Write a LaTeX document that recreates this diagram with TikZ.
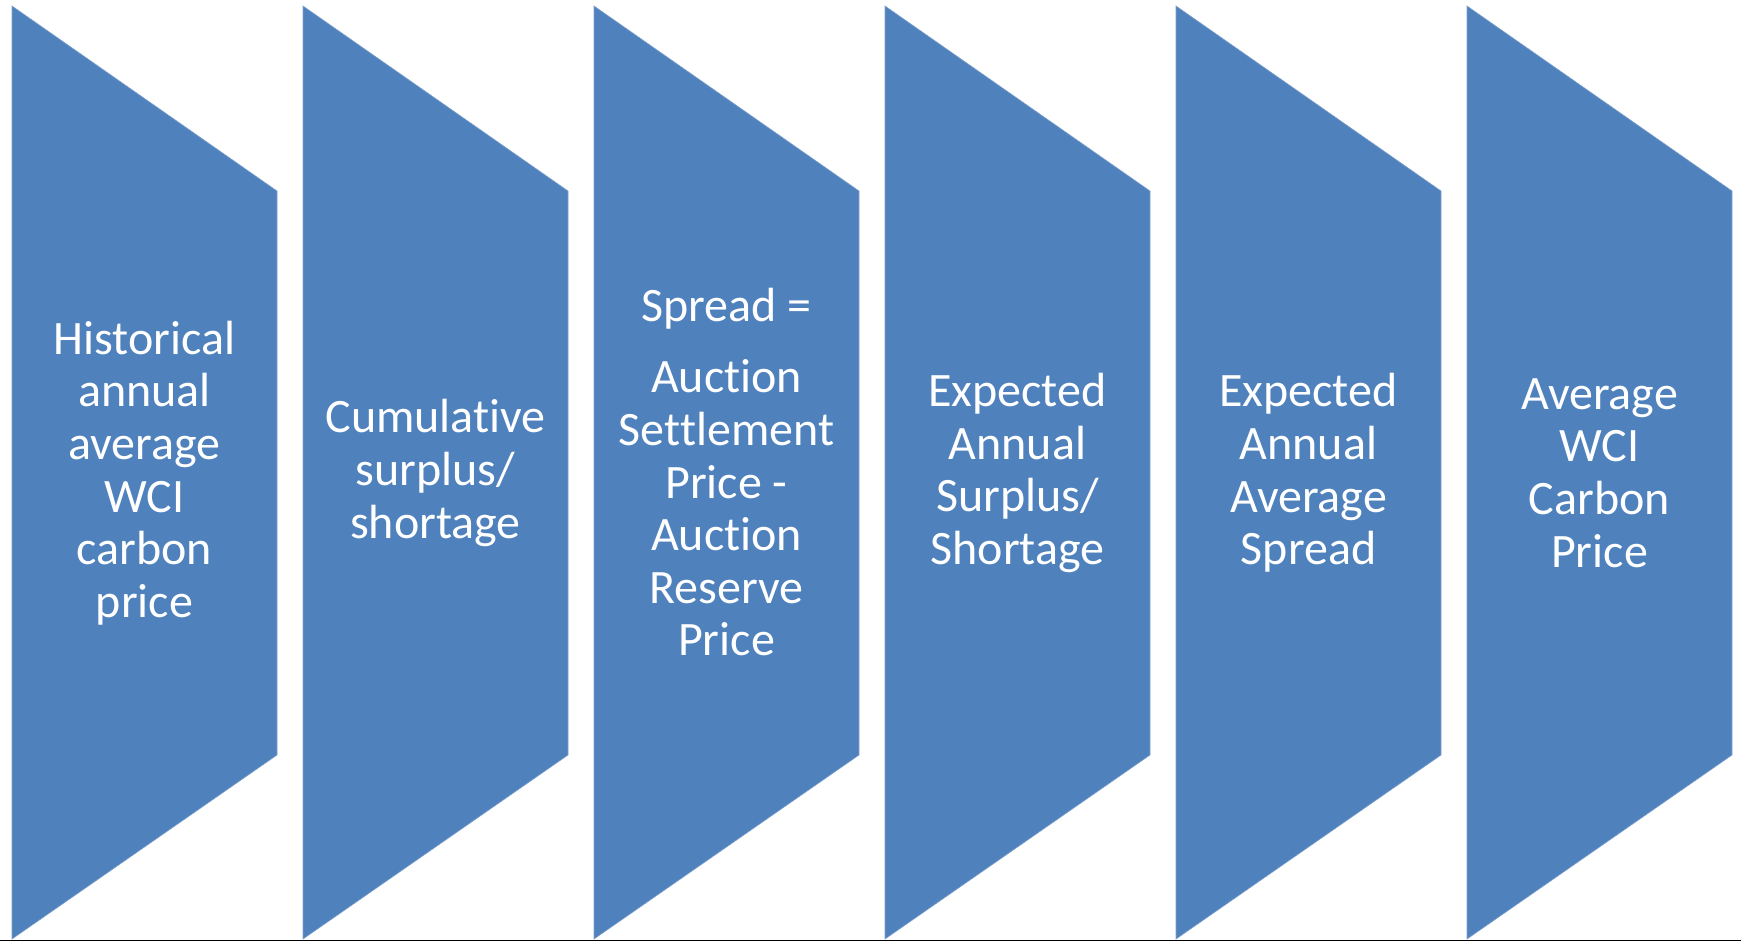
\documentclass[tikz,border=0pt]{standalone}
\usepackage{fontspec}
\setmainfont{Carlito}[Ligatures={NoCommon}]
\definecolor{stepblue}{HTML}{4F81BD}
\definecolor{stepedge}{HTML}{7EA1CC}
\definecolor{baseline}{HTML}{77933C}
\begin{document}
\begin{tikzpicture}[x=1pt,y=-1pt,
  stepshape/.style={fill=stepblue,draw=stepedge,line width=0.6pt,line join=miter},
  steptext/.style={text=white,align=center,inner sep=0pt,
    font=\fontsize{48}{52.6}\selectfont}]
\useasboundingbox (0,0) rectangle (1741,941);
% six pentagon-like step shapes, each slanting down toward the right
\foreach \i in {0,...,5}{
  \pgfmathsetmacro{\xa}{12+291*\i}
  \pgfmathsetmacro{\xb}{\xa+265}
  \path[stepshape] (\xa,6) -- (\xb,191) -- (\xb,755) -- (\xa,939) -- cycle;
}
% step labels
\node[steptext] (s1) at (144.5,473) {Historical\\annual\\average\\WCI\\carbon\\price};
\node[steptext] (s2) at (435.5,473) {Cumulative\\surplus/\\shortage};
\node[steptext] (s3) at (726.5,472) {Spread =\\[19pt]Auction\\Settlement\\Price -\\Auction\\Reserve\\Price};
\node[steptext] (s4) at (1017.5,473) {Expected\\Annual\\Surplus/\\Shortage};
\node[steptext] (s5) at (1308.5,473) {Expected\\Annual\\Average\\Spread};
\node[steptext] (s6) at (1599.5,473) {Average\\WCI\\Carbon\\Price};
% thin rule along the bottom edge
\coordinate (bl) at (0,940.3);
\coordinate (br) at (1741,940.3);
\draw[baseline,line width=1.4pt] (bl) -- (br);
\end{tikzpicture}
\end{document}
